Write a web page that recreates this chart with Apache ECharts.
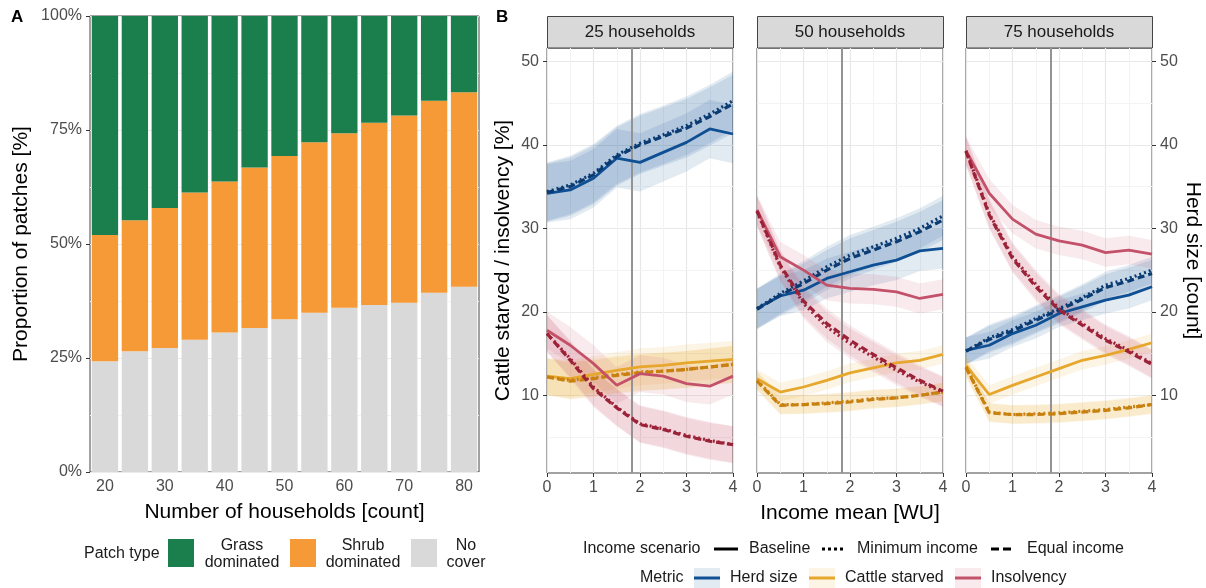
<!DOCTYPE html>
<html>
<head>
<meta charset="utf-8">
<script src="https://cdn.jsdelivr.net/npm/echarts@6/dist/echarts.min.js"></script>
<style>
	html,body{margin:0;padding:0;background:#fff}
	#chart{width:1206px;height:588px}
</style>
</head>
<body>
<div id="chart"></div>
<script>
// ---- panel A : patch types
var households = ['20','25','30','35','40','45','50','55','60','65','70','75','80'];
var noCover = [24.3, 26.5, 27.2, 29.0, 30.6, 31.6, 33.5, 34.9, 36.0, 36.6, 37.1, 39.3, 40.6];
var shrubDominated = [27.7, 28.7, 30.7, 32.3, 33.1, 35.2, 35.8, 37.4, 38.3, 40.0, 41.1, 42.1, 42.7];
var grassDominated = [48.0, 44.8, 42.1, 38.7, 36.3, 33.2, 30.7, 27.7, 25.7, 23.4, 21.8, 18.6, 16.7];
var percentTicks = [0, 25, 50, 75, 100];

// ---- panel B : one row per facet (25, 50, 75 households)
var facets = ['25 households', '50 households', '75 households'];
var incomeMean = [0, 0.5, 1, 1.5, 2, 2.5, 3, 3.5, 4];
var incomeRef = 1.83;
var yTicks = [10, 20, 30, 40, 50];
var yMinorLines = [5, 15, 25, 35, 45];

var herdBaseline = [
	[34.2, 34.6, 36.0, 38.4, 37.9, 39.1, 40.3, 41.9, 41.3],
	[20.4, 21.9, 22.6, 24.0, 24.8, 25.6, 26.2, 27.3, 27.6],
	[15.4, 16.0, 17.4, 18.4, 19.8, 20.6, 21.4, 22.0, 23.0]
];
var herdMinimum = [
	[34.4, 35.2, 36.6, 38.8, 40.2, 41.2, 42.3, 43.7, 45.3],
	[20.4, 22.2, 23.7, 25.4, 26.8, 27.8, 28.8, 30.0, 31.5],
	[15.3, 16.9, 17.9, 19.2, 20.4, 21.7, 23.2, 24.0, 25.0]
];
var herdEqual = [
	[34.3, 35.0, 36.4, 38.6, 40.0, 41.0, 42.0, 43.4, 44.9],
	[20.3, 22.0, 23.4, 25.0, 26.4, 27.4, 28.4, 29.6, 31.0],
	[15.3, 16.7, 17.7, 19.0, 20.2, 21.5, 22.9, 23.7, 24.6]
];
var starvedBaseline = [
	[12.3, 12.0, 12.5, 13.0, 13.4, 13.6, 13.9, 14.1, 14.3],
	[12.0, 10.4, 11.0, 11.8, 12.7, 13.3, 13.9, 14.2, 14.9],
	[13.6, 10.1, 11.2, 12.2, 13.2, 14.2, 14.8, 15.5, 16.3]
];
var starvedMinimum = [
	[12.2, 11.8, 12.1, 12.5, 12.8, 12.9, 13.1, 13.4, 13.7],
	[11.8, 8.9, 8.9, 9.1, 9.3, 9.6, 9.7, 10.0, 10.4],
	[13.4, 8.0, 7.7, 7.8, 7.9, 8.1, 8.3, 8.6, 8.9]
];
var starvedEqual = [
	[12.2, 11.7, 12.0, 12.4, 12.7, 12.9, 13.1, 13.4, 13.7],
	[11.7, 8.8, 8.9, 9.0, 9.2, 9.5, 9.7, 10.0, 10.4],
	[13.3, 7.9, 7.7, 7.7, 7.8, 8.0, 8.2, 8.5, 8.9]
];
var insolBaseline = [
	[17.8, 16.0, 13.8, 11.2, 12.6, 12.3, 11.4, 11.1, 12.3],
	[32.2, 26.6, 25.0, 23.2, 22.8, 22.7, 22.4, 21.6, 22.1],
	[39.3, 34.2, 31.1, 29.3, 28.5, 28.0, 27.1, 27.4, 26.9]
];
var insolMinimum = [
	[17.4, 14.4, 11.0, 8.6, 6.6, 6.0, 5.2, 4.6, 4.1],
	[32.0, 25.4, 21.0, 18.2, 16.2, 14.6, 13.0, 11.6, 10.4],
	[39.3, 31.8, 26.6, 23.3, 20.4, 18.6, 16.8, 15.4, 13.8]
];
var insolEqual = [
	[17.4, 14.2, 10.8, 8.5, 6.5, 5.9, 5.1, 4.5, 4.1],
	[32.1, 25.6, 21.3, 18.6, 16.6, 14.9, 13.3, 11.8, 10.5],
	[39.2, 31.6, 26.4, 23.0, 20.2, 18.4, 16.6, 15.2, 13.7]
];
// half width of the uncertainty ribbons, per facet
var herdSpread = [3.5, 2.4, 1.6];
var starvedSpread = [2.2, 1.1, 1.1];
var insolSpread = [2.2, 1.8, 1.7];

var FONT = '"Liberation Sans", Arial, sans-serif';
var chart = echarts.init(document.getElementById('chart'));

var metrics = [
	{name: 'Herd size', color: '#0f4f93', dark: '#0a3b73', band: 'rgba(15,79,147,0.12)', spread: herdSpread, vals: [herdBaseline, herdMinimum, herdEqual]},
	{name: 'Cattle starved', color: '#e6a72c', dark: '#c8800f', band: 'rgba(230,167,44,0.13)', spread: starvedSpread, vals: [starvedBaseline, starvedMinimum, starvedEqual]},
	{name: 'Insolvency', color: '#c4516a', dark: '#9c2238', band: 'rgba(196,81,106,0.12)', spread: insolSpread, vals: [insolBaseline, insolMinimum, insolEqual]}
];
var scenarios = [
	{name: 'Baseline', dash: 'solid', width: 2.8},
	{name: 'Minimum income', dash: [2, 3], width: 3.2},
	{name: 'Equal income', dash: [7, 4], width: 3.2}
];

var facetLeft = [547, 757, 966];
var facetW = 186;

var grids = [{left: 90, top: 16, width: 389, height: 456, show: true, borderColor: '#444', borderWidth: 1}];
var xAxes = [{
	gridIndex: 0, type: 'category', data: households,
	name: 'Number of households [count]', nameLocation: 'middle', nameGap: 30,
	nameTextStyle: {fontSize: 21, color: '#000', fontFamily: FONT},
	axisLine: {show: false, onZero: false},
	axisTick: {alignWithLabel: true, interval: 1, length: 4, lineStyle: {color: '#333'}},
	axisLabel: {interval: 1, color: '#4d4d4d', fontSize: 16, margin: 7, fontFamily: FONT}
}];
var yAxes = [{
	gridIndex: 0, type: 'value', min: percentTicks[0], max: percentTicks[4], interval: 25,
	name: 'Proportion of patches [%]', nameLocation: 'middle', nameGap: 58, nameRotate: 90,
	nameTextStyle: {fontSize: 21, color: '#000', fontFamily: FONT},
	axisLine: {show: false, onZero: false},
	axisTick: {show: true, length: 4, lineStyle: {color: '#333'}},
	axisLabel: {formatter: '{value}%', color: '#4d4d4d', fontSize: 16, margin: 8, fontFamily: FONT},
	splitLine: {lineStyle: {color: '#ebebeb', width: 1.2}},
	minorTick: {show: false, splitNumber: 2},
	minorSplitLine: {show: true, lineStyle: {color: '#f3f3f3', width: 1}}
}];

var series = [
	{type: 'bar', name: 'No cover', xAxisIndex: 0, yAxisIndex: 0, stack: 'p', data: noCover, barCategoryGap: '12%', itemStyle: {color: '#d9d9d9'}, silent: true},
	{type: 'bar', name: 'Shrub dominated', xAxisIndex: 0, yAxisIndex: 0, stack: 'p', data: shrubDominated, itemStyle: {color: '#f59a36'}, silent: true},
	{type: 'bar', name: 'Grass dominated', xAxisIndex: 0, yAxisIndex: 0, stack: 'p', data: grassDominated, itemStyle: {color: '#1a7f4c'}, silent: true}
];

function bandSeries(f, vals, spread, fill){
	var pts = incomeMean.map(function(x, i){ return [x, vals[i] - spread, vals[i] + spread]; });
	return {
		type: 'custom', xAxisIndex: f + 1, yAxisIndex: f + 1, z: 2, silent: true, clip: true,
		data: pts, encode: {x: 0, y: [1, 2]},
		renderItem: function(params, api){
			if (params.dataIndex !== 0) return;
			var top = [], bottom = [];
			for (var i = 0; i < pts.length; i++) {
				top.push(api.coord([pts[i][0], pts[i][2]]));
				bottom.unshift(api.coord([pts[i][0], pts[i][1]]));
			}
			return {type: 'polygon', shape: {points: top.concat(bottom)}, style: {fill: fill}};
		}
	};
}

facets.forEach(function(name, f){
	grids.push({left: facetLeft[f], top: 48, width: facetW, height: 425, show: true, borderColor: '#444', borderWidth: 1});
	xAxes.push({
		gridIndex: f + 1, type: 'value', min: 0, max: 4, interval: 1,
		name: f === 1 ? 'Income mean [WU]' : '', nameLocation: 'middle', nameGap: 30,
		nameTextStyle: {fontSize: 21, color: '#000', fontFamily: FONT},
		axisLine: {show: false, onZero: false},
		axisTick: {show: true, length: 4, lineStyle: {color: '#333'}},
		axisLabel: {color: '#4d4d4d', fontSize: 16, margin: 7, fontFamily: FONT},
		splitLine: {show: true, lineStyle: {color: '#e8e8e8', width: 1.2}},
		minorTick: {show: false, splitNumber: 2},
		minorSplitLine: {show: true, lineStyle: {color: '#f3f3f3', width: 1}}
	});
	yAxes.push({
		gridIndex: f + 1, type: 'value', min: 0.7, max: 51.6,
		position: f === 2 ? 'right' : 'left',
		name: f === 0 ? 'Cattle starved / insolvency [%]' : (f === 2 ? 'Herd size [count]' : ''),
		nameLocation: 'middle', nameGap: f === 0 ? 33 : 30, nameRotate: f === 2 ? -90 : 90,
		nameTextStyle: {fontSize: 21, color: '#000', fontFamily: FONT},
		axisLine: {show: false, onZero: false},
		axisTick: {show: f !== 1, length: 4, customValues: yTicks, lineStyle: {color: '#333'}},
		axisLabel: {show: f !== 1, customValues: yTicks, color: '#4d4d4d', fontSize: 16, margin: 8, fontFamily: FONT,
			formatter: function(v){ return v % 10 === 0 ? String(v) : ''; }},
		splitLine: {show: true, lineStyle: {color: '#e8e8e8', width: 1.2}}
	});

	// minor horizontal grid + income reference line
	series.push({
		type: 'line', xAxisIndex: f + 1, yAxisIndex: f + 1, data: [], silent: true,
		markLine: {silent: true, symbol: 'none', z: 1, label: {show: false},
			lineStyle: {color: '#f3f3f3', width: 1, type: 'solid'},
			data: yMinorLines.map(function(v){ return {yAxis: v}; })}
	});
	series.push({
		type: 'line', xAxisIndex: f + 1, yAxisIndex: f + 1, data: [], silent: true, z: 3,
		markLine: {silent: true, symbol: 'none', z: 3, label: {show: false},
			lineStyle: {color: '#939393', width: 2, type: 'solid'},
			data: [{xAxis: incomeRef}]}
	});

	metrics.forEach(function(m){
		scenarios.forEach(function(s, k){
			series.push(bandSeries(f, m.vals[k][f], m.spread[f], m.band));
		});
	});
	metrics.forEach(function(m){
		scenarios.forEach(function(s, k){
			series.push({
				type: 'line', name: m.name + ' ' + s.name, xAxisIndex: f + 1, yAxisIndex: f + 1, z: 4,
				silent: true, symbol: 'none', showSymbol: false,
				data: incomeMean.map(function(x, i){ return [x, m.vals[k][f][i]]; }),
				lineStyle: {color: k === 0 ? m.color : m.dark, width: s.width, type: s.dash, cap: 'butt'}
			});
		});
	});
});

// ---- strips, panel tags, legends
var g = [];
function txt(x, y, text, opt){
	opt = opt || {};
	return {type: 'text', x: x, y: y, silent: true, style: {
		text: text, fill: opt.fill || '#1a1a1a', font: (opt.weight || 'normal') + ' ' + (opt.size || 16) + 'px ' + FONT,
		align: opt.align || 'left', verticalAlign: 'middle', lineHeight: opt.lh || 17}};
}
facets.forEach(function(name, f){
	g.push({type: 'rect', silent: true, shape: {x: facetLeft[f] + 0.5, y: 16.5, width: facetW, height: 31.5}, style: {fill: '#d9d9d9', stroke: '#444', lineWidth: 1}});
	g.push(txt(facetLeft[f] + facetW / 2, 32, name, {align: 'center', size: 17}));
});
g.push(txt(11, 17, 'A', {weight: 'bold', size: 17, fill: '#000'}));
g.push(txt(496, 17, 'B', {weight: 'bold', size: 17, fill: '#000'}));

// patch type legend
g.push(txt(84, 554, 'Patch type'));
[['#1a7f4c', 168, 'Grass\ndominated', 242], ['#f59a36', 290, 'Shrub\ndominated', 363], ['#d9d9d9', 411, 'No\ncover', 466]].forEach(function(it){
	g.push({type: 'rect', silent: true, shape: {x: it[1], y: 539, width: 26, height: 28}, style: {fill: it[0]}});
	g.push(txt(it[3], 554, it[2], {align: 'center'}));
});

// income scenario legend
g.push(txt(583, 549, 'Income scenario'));
[[714, 'Baseline', 749, 'solid'], [822, 'Minimum income', 857, [3, 3]], [991, 'Equal income', 1027, [8, 4]]].forEach(function(it){
	g.push({type: 'line', silent: true, shape: {x1: it[0], y1: 549, x2: it[0] + 24, y2: 549}, style: {stroke: '#000', lineWidth: 3, lineDash: it[3] === 'solid' ? null : it[3]}});
	g.push(txt(it[2], 549, it[1]));
});

// metric legend
g.push(txt(640, 578, 'Metric'));
[[694, 730], [809, 845], [955, 991]].forEach(function(pos, i){
	var m = metrics[i];
	g.push({type: 'rect', silent: true, shape: {x: pos[0], y: 568, width: 26, height: 20}, style: {fill: m.band}});
	g.push({type: 'line', silent: true, shape: {x1: pos[0], y1: 578, x2: pos[0] + 26, y2: 578}, style: {stroke: m.color, lineWidth: 3}});
	g.push(txt(pos[1], 578, m.name));
});

chart.setOption({
	animation: false,
	textStyle: {fontFamily: FONT},
	grid: grids,
	xAxis: xAxes,
	yAxis: yAxes,
	series: series,
	graphic: g
});
</script>
</body>
</html>
